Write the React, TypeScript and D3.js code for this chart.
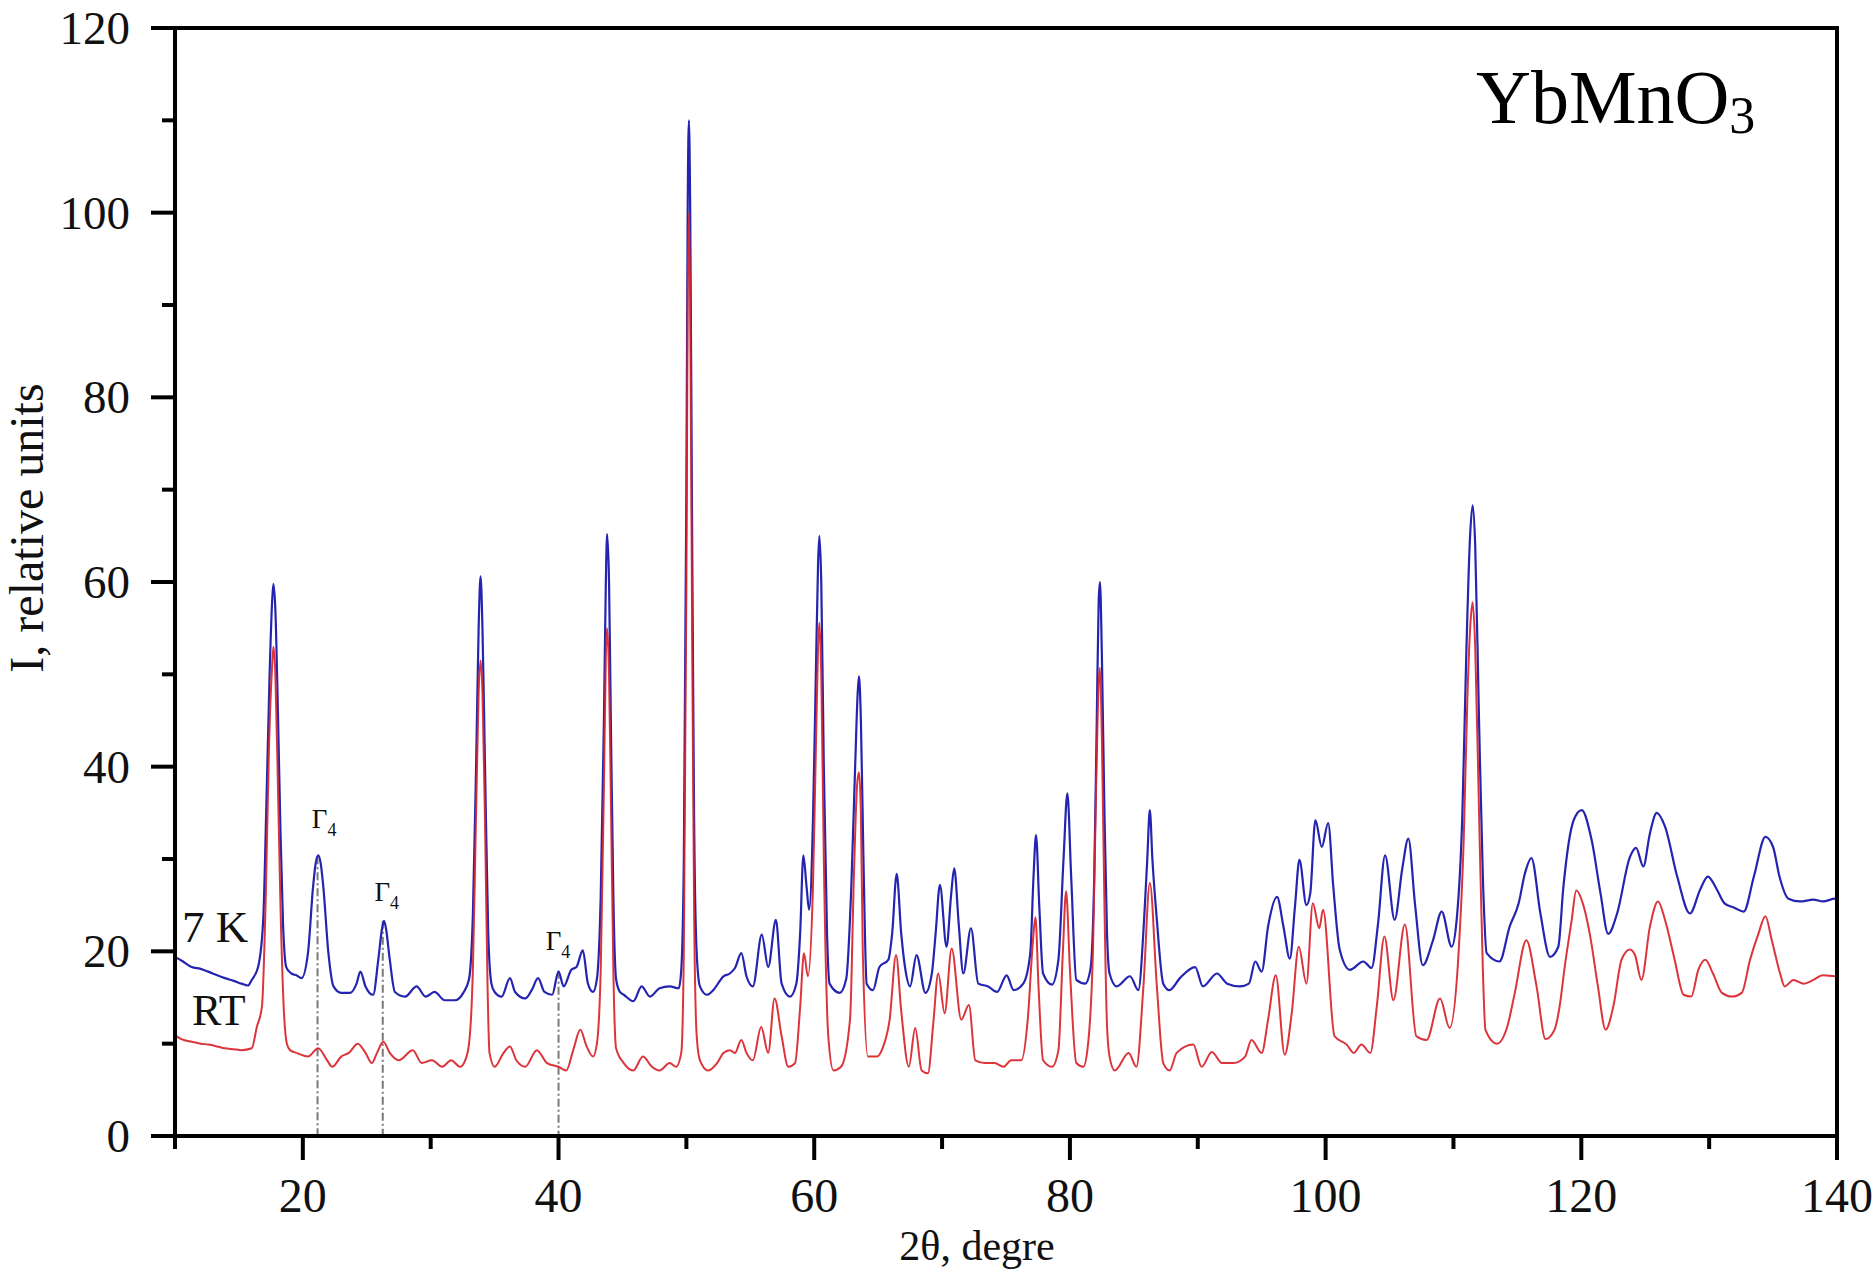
import React from 'react';
import * as d3 from 'd3';

const W = 1874;
const H = 1269;

// 2θ (degree) / intensity pairs — 7 K pattern (blue)
const pattern7K: [number, number][] = [
  [10.0, 19.4], [10.5, 19.0], [11.3, 18.3], [12.0, 18.1], [12.6, 17.8], [13.3, 17.4], [13.9, 17.1],
  [14.6, 16.8], [15.2, 16.5], [15.7, 16.3], [16.0, 16.9], [16.5, 18.3], [16.9, 23.4], [17.15, 36],
  [17.4, 50], [17.6, 58], [17.7, 59.8], [17.85, 57], [18.05, 46], [18.25, 33], [18.45, 23], [18.7, 18.3],
  [19.1, 17.6], [19.5, 17.4], [19.9, 17.1], [20.4, 19.8], [20.8, 27], [21.0, 29.5], [21.2, 30.4],
  [21.4, 29.5], [21.6, 27], [22.0, 19.8], [22.4, 16.2], [23.0, 15.5], [23.7, 15.5], [24.2, 16.5],
  [24.5, 17.8], [24.9, 16.2], [25.5, 15.3], [25.9, 19.1], [26.2, 22.5], [26.35, 23.3], [26.5, 22.5],
  [26.8, 19.1], [27.2, 15.6], [28.0, 15.1], [28.9, 16.2], [29.6, 15.1], [30.3, 15.6], [31.1, 14.7],
  [31.9, 14.7], [32.55, 15.5], [33.0, 17], [33.3, 24], [33.55, 40], [33.75, 55], [33.9, 60.6],
  [34.05, 55], [34.25, 40], [34.5, 22], [34.75, 16.5], [35.0, 15.6], [35.55, 15.1], [36.2, 17.1],
  [36.6, 15.6], [37.4, 14.9], [37.9, 15.8], [38.4, 17.1], [38.9, 15.6], [39.5, 15.3], [40.0, 17.8],
  [40.4, 16.2], [41.0, 18.0], [41.4, 18.3], [41.9, 20.1], [42.3, 16.5], [42.7, 15.6], [43.0, 17],
  [43.3, 26], [43.55, 45], [43.7, 60], [43.8, 65.2], [43.95, 60], [44.1, 44], [44.3, 25], [44.5, 17],
  [44.8, 15.6], [45.1, 15.3], [45.85, 14.6], [46.5, 16.2], [47.15, 15.1], [47.9, 16.0], [48.7, 16.2],
  [49.4, 16.0], [49.6, 18], [49.8, 30], [50.0, 70], [50.1, 100], [50.2, 110], [50.3, 100], [50.45, 65],
  [50.6, 35], [50.8, 20], [51.06, 16.2], [51.6, 15.3], [52.1, 15.8], [52.9, 17.3], [53.4, 17.6],
  [53.8, 18.2], [54.3, 19.8], [54.7, 17.3], [55.2, 16.2], [55.9, 21.8], [56.4, 18.3], [57.0, 23.4],
  [57.45, 16.5], [58.1, 15.1], [58.6, 16.5], [58.9, 22], [59.15, 30.4], [59.4, 27], [59.6, 24.5],
  [59.9, 34.2], [60.1, 48], [60.3, 62], [60.4, 65], [60.55, 60], [60.75, 40], [61.0, 22], [61.2, 16.5],
  [62.0, 15.5], [62.5, 17], [62.9, 27], [63.2, 40], [63.4, 48], [63.5, 49.8], [63.65, 45], [63.85, 30],
  [64.1, 16.5], [64.6, 15.8], [65.1, 18.3], [65.8, 19.1], [66.1, 22], [66.45, 28.4], [66.8, 22],
  [67.1, 18.3], [67.5, 16.2], [68.0, 19.6], [68.7, 15.5], [69.2, 17.6], [69.5, 22], [69.83, 27.2],
  [70.35, 20.5], [70.7, 26], [70.95, 29], [71.3, 23], [71.66, 17.6], [72.26, 22.5], [72.83, 16.5],
  [73.6, 16.2], [74.3, 15.6], [75.05, 17.4], [75.6, 15.8], [76.35, 16.5], [76.9, 19.8], [77.15, 28],
  [77.35, 32.6], [77.6, 25], [77.9, 17.6], [78.6, 16.4], [79.1, 19.1], [79.5, 30], [79.8, 37.1],
  [80.1, 28], [80.5, 16.9], [81.2, 16.5], [81.6, 18], [81.9, 28], [82.1, 45], [82.25, 58], [82.35, 60],
  [82.5, 52], [82.7, 35], [82.9, 22], [83.1, 17.6], [83.66, 16.2], [84.7, 17.3], [85.35, 15.8],
  [85.8, 23.4], [86.05, 30], [86.25, 35.3], [86.45, 30], [86.8, 23.4], [87.3, 16.5], [87.8, 15.8],
  [88.6, 17.1], [89.8, 18.3], [90.4, 16.2], [91.5, 17.6], [92.3, 16.5], [93.3, 16.2], [94.0, 16.5],
  [94.5, 18.9], [95.0, 17.8], [95.5, 22.7], [96.2, 25.9], [96.7, 22.7], [97.2, 19.2], [97.6, 24.8],
  [97.95, 29.9], [98.5, 25], [98.8, 26.3], [99.2, 34.2], [99.7, 31.3], [100.2, 33.9], [100.6, 27],
  [101.1, 20.2], [101.9, 18.0], [102.95, 18.9], [103.6, 18.2], [104.1, 23], [104.65, 30.4],
  [105.4, 23.4], [106.0, 29], [106.47, 32.2], [107.0, 25], [107.6, 18.5], [108.4, 21.2], [109.08, 24.3],
  [109.86, 20.5], [110.25, 23.4], [110.7, 35], [111.0, 52], [111.3, 65], [111.5, 68.3], [111.7, 64],
  [112.0, 45], [112.3, 28], [112.6, 19.8], [113.6, 18.9], [114.4, 22.7], [115.1, 25.2], [115.6, 28.5],
  [116.1, 30.1], [116.8, 24.1], [117.55, 19.4], [118.2, 20.5], [118.6, 27], [119.4, 34.2],
  [120.03, 35.3], [120.8, 32.1], [121.5, 26.3], [122.1, 21.9], [122.8, 24.1], [123.8, 30.2],
  [124.28, 31.2], [124.85, 29.2], [125.37, 32.8], [125.9, 35], [126.55, 33.5], [127.5, 28.1],
  [128.5, 24.1], [129.3, 26.7], [129.9, 28.1], [130.6, 26.7], [131.2, 25.2], [132.0, 24.7],
  [132.7, 24.3], [133.5, 28.1], [134.4, 32.4], [135.0, 31.3], [135.5, 28.1], [136.2, 25.7],
  [137.1, 25.4], [138.15, 25.6], [138.9, 25.4], [139.85, 25.7], [140.0, 25.6],
];

// room-temperature pattern (red)
const patternRT: [number, number][] = [
  [10.0, 10.9], [10.5, 10.5], [11.3, 10.2], [12.0, 10.0], [12.6, 9.9], [13.3, 9.7], [13.9, 9.5],
  [14.6, 9.4], [15.2, 9.3], [16.0, 9.5], [16.4, 11.8], [16.8, 14], [17.1, 26], [17.35, 42], [17.6, 51],
  [17.7, 53], [17.85, 50], [18.05, 38], [18.25, 25], [18.5, 14], [18.75, 10], [19.0, 9.3], [19.6, 8.95],
  [20.4, 8.6], [21.2, 9.5], [21.9, 8.2], [22.3, 7.5], [23.0, 8.6], [23.6, 9.0], [24.3, 10.0], [24.9, 9.0],
  [25.4, 7.9], [25.8, 9.0], [26.3, 10.2], [26.8, 9.0], [27.5, 8.2], [28.6, 9.3], [29.3, 7.9], [30.1, 8.2],
  [30.9, 7.5], [31.6, 8.2], [32.3, 7.5], [32.7, 8.2], [33.0, 10], [33.3, 18], [33.55, 35], [33.75, 48],
  [33.9, 51.5], [34.05, 48], [34.25, 34], [34.45, 16], [34.6, 9.0], [35.0, 7.5], [35.7, 9.0],
  [36.2, 9.7], [36.7, 8.2], [37.4, 7.5], [38.3, 9.3], [39.1, 7.9], [40.0, 7.5], [40.6, 7.1],
  [41.15, 9.3], [41.7, 11.5], [42.2, 9.7], [42.7, 8.6], [43.0, 10], [43.3, 18], [43.55, 38], [43.7, 52],
  [43.8, 55], [43.95, 50], [44.1, 36], [44.3, 17], [44.5, 9.5], [45.1, 7.9], [45.85, 7.1], [46.6, 8.6],
  [47.3, 7.5], [47.9, 7.1], [48.7, 7.9], [49.2, 7.5], [49.6, 9], [49.8, 20], [50.0, 60], [50.1, 90],
  [50.2, 100], [50.3, 90], [50.45, 55], [50.6, 25], [50.8, 11], [51.06, 8.2], [51.7, 7.1], [52.4, 7.9],
  [52.9, 9.0], [53.4, 9.3], [53.8, 9.0], [54.3, 10.4], [54.7, 9.0], [55.2, 8.2], [55.85, 11.8],
  [56.4, 9.0], [56.9, 14.9], [57.45, 10.8], [57.97, 7.5], [58.5, 7.9], [58.9, 14], [59.2, 19.8],
  [59.5, 17.3], [59.9, 27], [60.1, 40], [60.3, 53], [60.4, 55.6], [60.55, 50], [60.75, 30], [61.1, 10.8],
  [61.5, 7.1], [62.1, 7.5], [62.8, 12.6], [63.1, 28], [63.35, 38], [63.5, 39.4], [63.65, 35], [63.8, 19.8],
  [64.2, 8.6], [64.9, 8.6], [65.4, 9.7], [65.9, 12.6], [66.4, 19.6], [66.8, 13.6], [67.4, 7.5],
  [67.9, 11.7], [68.4, 7.1], [68.9, 6.8], [69.3, 12], [69.7, 17.6], [70.2, 13.3], [70.75, 20.3],
  [71.5, 12.6], [72.1, 14.2], [72.6, 8.2], [73.35, 7.9], [74.1, 7.9], [74.8, 7.5], [75.4, 8.2],
  [76.2, 8.2], [76.7, 12.6], [77.1, 21], [77.3, 23.7], [77.55, 16], [77.9, 8.2], [78.6, 7.5], [79.1, 9.3],
  [79.45, 20], [79.7, 26.5], [80.0, 18], [80.5, 7.9], [81.05, 7.5], [81.4, 9.7], [81.8, 20], [82.05, 38],
  [82.25, 49], [82.35, 50.7], [82.5, 43], [82.7, 25], [82.9, 12], [83.1, 8.6], [83.5, 7.1], [84.6, 9.0],
  [85.2, 7.5], [85.75, 16.2], [86.25, 27.4], [86.8, 16.2], [87.3, 7.9], [87.8, 7.1], [88.35, 9.0],
  [89.65, 9.9], [90.3, 7.5], [91.1, 9.1], [91.9, 7.9], [92.8, 7.9], [93.7, 8.6], [94.2, 10.4], [95.0, 9.0],
  [95.5, 12.6], [96.1, 17.4], [96.8, 8.8], [97.35, 13.3], [97.9, 20.5], [98.5, 16.5], [99.0, 25.2],
  [99.5, 22.5], [99.8, 24.5], [100.7, 10.8], [101.65, 9.9], [102.2, 9.0], [102.8, 9.9], [103.5, 9.0],
  [104.0, 14], [104.6, 21.6], [105.3, 14.7], [106.2, 22.9], [107.1, 10.8], [107.9, 10.4], [108.95, 14.9],
  [109.7, 11.7], [110.4, 19.8], [110.8, 32], [111.1, 48], [111.35, 56], [111.5, 57.8], [111.7, 53],
  [112.0, 35], [112.3, 18], [112.5, 11.5], [113.4, 10.0], [114.2, 11.8], [114.8, 15.5], [115.7, 21.2],
  [116.5, 16.2], [117.2, 10.5], [117.9, 11.5], [118.3, 14], [118.7, 18.3], [119.25, 23.4], [119.6, 26.6],
  [120.2, 24.8], [120.7, 21.6], [121.3, 16.2], [121.9, 11.5], [122.5, 14], [123.15, 19.1], [123.8, 20.2],
  [124.2, 19.6], [124.7, 16.9], [125.37, 22.7], [126.0, 25.4], [126.55, 23.4], [127.3, 19.1],
  [128.0, 15.3], [128.6, 15.1], [129.15, 18], [129.7, 19.1], [130.3, 17.6], [131.0, 15.5], [131.8, 15.1],
  [132.55, 15.5], [133.2, 19.1], [133.85, 21.9], [134.4, 23.8], [134.9, 21.2], [135.55, 17.6],
  [135.9, 16.2], [136.6, 16.9], [137.4, 16.5], [138.15, 16.9], [138.9, 17.4], [139.85, 17.3], [140.0, 17.5],
];

const xMajorTicks = [20, 40, 60, 80, 100, 120, 140];
const xMinorTicks = [10, 30, 50, 70, 90, 110, 130];
const yMajorTicks = [0, 20, 40, 60, 80, 100, 120];
const yMinorTicks = [10, 30, 50, 70, 90, 110];

// Γ4 magnetic reflections: position, top of the guide line, label anchor
const gammaPos = [21.15, 26.25, 40.0];
const gammaTop = [30.3, 23.3, 17.9];
const gammaLabelX = [20.7, 25.6, 39.0];
const gammaLabelY = [33.4, 25.5, 20.1];

const FONT = "'Liberation Serif', 'Times New Roman', Times, serif";
const BLUE = '#2424b0';
const RED = '#d8232a';

export default function App() {
  const x = d3.scaleLinear().domain([10, 140]).range([175, 1837]);
  const y = d3.scaleLinear().domain([0, 120]).range([1136, 28]);
  const line = d3
    .line<[number, number]>()
    .x((d) => x(d[0]))
    .y((d) => y(d[1]))
    .curve(d3.curveMonotoneX);

  const x0 = x(10);
  const x1 = x(140);
  const y0 = y(0);
  const y1 = y(120);

  return (
    <svg
      width={W}
      height={H}
      viewBox={`0 0 ${W} ${H}`}
      style={{ position: 'absolute', left: 0, top: 0, display: 'block', background: '#fff' }}
      fontFamily={FONT}
    >
      <rect x={0} y={0} width={W} height={H} fill="#fff" />

      {/* Γ4 guide lines */}
      {gammaPos.map((g, i) => (
        <line
          key={'gl' + i}
          x1={x(g)}
          x2={x(g)}
          y1={y(gammaTop[i])}
          y2={y0}
          stroke="#7a7a7a"
          strokeWidth={2}
          strokeDasharray="8,3,2,3"
        />
      ))}

      {/* curves */}
      <path d={line(pattern7K) || ''} fill="none" stroke={BLUE} strokeWidth={2.2} strokeLinejoin="round" />
      <path d={line(patternRT) || ''} fill="none" stroke={RED} strokeWidth={2} strokeLinejoin="round" opacity={0.92} />

      {/* frame */}
      <rect x={x0} y={y1} width={x1 - x0} height={y0 - y1} fill="none" stroke="#000" strokeWidth={4} />

      {/* y ticks */}
      {yMajorTicks.map((t) => (
        <g key={'ym' + t}>
          <line x1={x0 - 24} x2={x0} y1={y(t)} y2={y(t)} stroke="#000" strokeWidth={4} />
          <text x={x0 - 45} y={y(t) + 16} textAnchor="end" fontSize={47} fill="#111">
            {t}
          </text>
        </g>
      ))}
      {yMinorTicks.map((t) => (
        <line key={'yn' + t} x1={x0 - 13} x2={x0} y1={y(t)} y2={y(t)} stroke="#000" strokeWidth={4} />
      ))}

      {/* x ticks */}
      {xMajorTicks.map((t) => (
        <g key={'xm' + t}>
          <line x1={x(t)} x2={x(t)} y1={y0} y2={y0 + 24} stroke="#000" strokeWidth={4} />
          <text x={x(t)} y={1212} textAnchor="middle" fontSize={48} fill="#111">
            {t}
          </text>
        </g>
      ))}
      {xMinorTicks.map((t) => (
        <line key={'xn' + t} x1={x(t)} x2={x(t)} y1={y0} y2={y0 + 13} stroke="#000" strokeWidth={4} />
      ))}

      {/* axis titles */}
      <text x={977} y={1260} textAnchor="middle" fontSize={42} fill="#111">
        2θ, degre
      </text>
      <text
        transform={`translate(43, 528) rotate(-90)`}
        textAnchor="middle"
        fontSize={48}
        fill="#111"
      >
        I, relative units
      </text>

      {/* compound label */}
      <text x={1476} y={123} fontSize={76} fill="#000">
        YbMnO<tspan dy={10} fontSize={52}>3</tspan>
      </text>

      {/* series labels */}
      <text x={182} y={942} fontSize={45} fill="#111">7 K</text>
      <text x={192} y={1025} fontSize={44} fill="#111">RT</text>

      {/* Γ4 labels */}
      {gammaLabelX.map((gx, i) => (
        <text key={'gt' + i} x={x(gx)} y={y(gammaLabelY[i])} fontSize={27} fill="#111">
          Γ<tspan dy={8} fontSize={18}>4</tspan>
        </text>
      ))}
    </svg>
  );
}
